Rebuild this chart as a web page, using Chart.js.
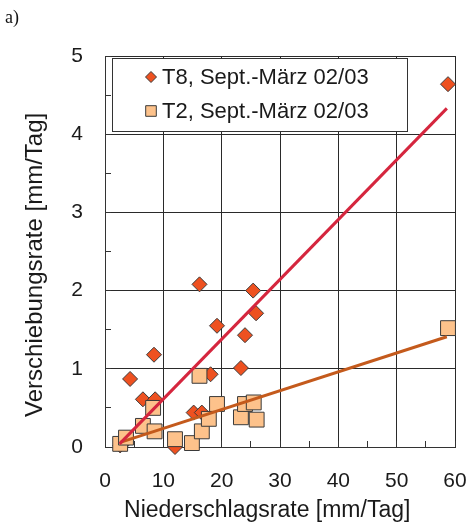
<!DOCTYPE html>
<html>
<head>
<meta charset="utf-8">
<script src="https://cdn.jsdelivr.net/npm/chart.js@4.4.0/dist/chart.umd.min.js"></script>
<style>
  html, body { margin: 0; padding: 0; background: #fff; }
  #wrap { width: 471px; height: 525px; }
</style>
</head>
<body>
<div id="wrap"><canvas id="chart"></canvas></div>
<script>
// Messwerte T8 (Rauten)
const t8X = [2.6, 3.6, 4.3, 6.5, 8.4, 8.6, 12.0, 15.2, 16.2, 16.6, 18.1, 19.2, 23.3, 24.0, 25.4, 25.9, 58.8];
const t8Y = [0.02, 0.08, 0.87, 0.61, 1.18, 0.61, 0.0, 0.44, 2.08, 0.44, 0.93, 1.55, 1.01, 1.43, 2.0, 1.71, 4.64];
// Messwerte T2 (Quadrate)
const t2X = [2.6, 3.6, 6.5, 8.25, 8.5, 12.0, 14.9, 16.2, 16.6, 17.8, 19.2, 23.3, 24.0, 25.5, 26.0, 58.8];
const t2Y = [0.04, 0.12, 0.27, 0.50, 0.20, 0.10, 0.05, 0.91, 0.20, 0.36, 0.55, 0.38, 0.55, 0.57, 0.35, 1.52];
// Regressionsgeraden (Anfangs- und Endpunkt)
const fitT8X = [2.5, 58.6];
const fitT8Y = [0.04, 4.33];
const fitT2X = [2.6, 58.6];
const fitT2Y = [0.06, 1.41];

const xTicks = [0, 10, 20, 30, 40, 50, 60];
const yTicks = [0, 1, 2, 3, 4, 5];
const seriesLabels = ['T8, Sept.-März 02/03', 'T2, Sept.-März 02/03'];

const toPoints = (xs, ys) => xs.map((x, i) => ({ x: x, y: ys[i] }));

Chart.defaults.font.family = "'Liberation Sans', Arial, sans-serif";
Chart.defaults.color = '#1a1a1a';

// Legende im Diagramm mit Rahmen, dazu "a)"
const boxLegend = {
  id: 'boxLegend',
  afterDatasetsDraw(chart) {
    const { ctx, chartArea } = chart;
    const x0 = chartArea.left + 7, y0 = chartArea.top + 2, w = 295, h = 73;
    ctx.save();
    ctx.fillStyle = '#fff';
    ctx.fillRect(x0, y0, w, h);
    ctx.strokeStyle = '#333';
    ctx.lineWidth = 1;
    ctx.strokeRect(x0 + 0.5, y0 + 0.5, w, h);
    const items = [
      { ds: chart.data.datasets[3], r: 5.5, y: y0 + 19 },
      { ds: chart.data.datasets[2], r: 7.5, y: y0 + 53 }
    ];
    items.forEach((it, i) => {
      ctx.fillStyle = it.ds.backgroundColor;
      ctx.strokeStyle = it.ds.borderColor;
      ctx.lineWidth = 1;
      Chart.helpers.drawPoint(ctx, { pointStyle: it.ds.pointStyle, radius: it.r, borderWidth: 1 }, x0 + 39, it.y);
      ctx.fillStyle = '#1a1a1a';
      ctx.font = "22px 'Liberation Sans', Arial, sans-serif";
      ctx.textBaseline = 'middle';
      ctx.textAlign = 'left';
      ctx.fillText(seriesLabels[i], x0 + 50, it.y + 1);
    });
    ctx.restore();
  },
  afterDraw(chart) {
    const ctx = chart.ctx;
    ctx.save();
    ctx.fillStyle = '#111';
    ctx.font = "18px 'Liberation Serif', 'Times New Roman', serif";
    ctx.textBaseline = 'alphabetic';
    ctx.fillText('a)', 5, 23);
    ctx.restore();
  }
};

const gridColor = (step) => (c) => (c.tick && Math.abs(c.tick.value / step - Math.round(c.tick.value / step)) < 1e-6) ? '#2a2a2a' : 'rgba(0,0,0,0)';

new Chart(document.getElementById('chart'), {
  type: 'scatter',
  data: {
    datasets: [
      {
        type: 'line',
        label: 'Regression T8',
        data: toPoints(fitT8X, fitT8Y),
        borderColor: '#d5263e',
        borderWidth: 3,
        pointRadius: 0,
        order: 0
      },
      {
        type: 'line',
        label: 'Regression T2',
        data: toPoints(fitT2X, fitT2Y),
        borderColor: '#c45a1c',
        borderWidth: 3,
        pointRadius: 0,
        order: 0
      },
      {
        label: seriesLabels[1],
        data: toPoints(t2X, t2Y),
        pointStyle: 'rect',
        pointRadius: 10.5,
        backgroundColor: '#fdc28b',
        borderColor: '#3a3a3a',
        borderWidth: 1,
        clip: false,
        order: 1
      },
      {
        label: seriesLabels[0],
        data: toPoints(t8X, t8Y),
        pointStyle: 'rectRot',
        pointRadius: 7.5,
        backgroundColor: '#ee5120',
        borderColor: '#3a3a3a',
        borderWidth: 1,
        clip: false,
        order: 2
      }
    ]
  },
  options: {
    responsive: true,
    maintainAspectRatio: false,
    animation: false,
    layout: { padding: { top: 56, right: 16, left: 0, bottom: 0 } },
    plugins: {
      legend: { display: false },
      tooltip: { enabled: false }
    },
    scales: {
      x: {
        type: 'linear',
        min: 0,
        max: 60,
        afterFit: (s) => { s.height = 78; s.paddingLeft = 0; s.paddingRight = 0; },
        ticks: {
          stepSize: 5,
          autoSkip: false,
          maxRotation: 0,
          minRotation: 0,
          padding: 28,
          font: { size: 21 },
          callback: (v) => xTicks.includes(v) ? v : ''
        },
        grid: { color: gridColor(10), tickColor: '#333', tickLength: -6, lineWidth: 1 },
        border: { color: '#333', width: 1 },
        title: {
          display: true,
          text: 'Niederschlagsrate [mm/Tag]\u00a0\u00a0\u00a0\u00a0',
          font: { size: 23 },
          padding: { top: 0, bottom: 1 }
        }
      },
      y: {
        type: 'linear',
        min: 0,
        max: 5,
        afterFit: (s) => { s.width = 105; s.paddingTop = 0; s.paddingBottom = 0; },
        ticks: {
          stepSize: 0.5,
          autoSkip: false,
          padding: 28,
          font: { size: 21 },
          callback: (v) => yTicks.includes(v) ? v : ''
        },
        grid: { color: gridColor(1), tickColor: '#333', tickLength: -6, lineWidth: 1 },
        border: { color: '#333', width: 1 },
        title: {
          display: true,
          text: 'Verschiebungsrate [mm/Tag]\u00a0\u00a0\u00a0\u00a0',
          font: { size: 24 },
          padding: { top: 21, bottom: 0 }
        }
      }
    }
  },
  plugins: [boxLegend]
});
</script>
</body>
</html>
